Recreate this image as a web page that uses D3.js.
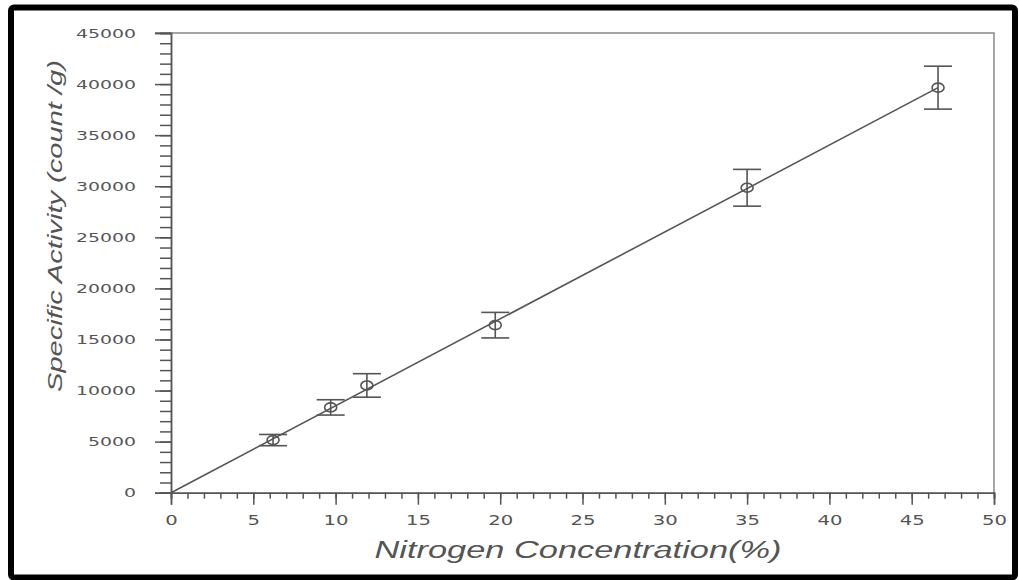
<!DOCTYPE html>
<html>
<head>
<meta charset="utf-8">
<script src="https://cdn.jsdelivr.net/npm/d3@7"></script>
<style>
  body { margin: 0; background: #fff; }
  svg { display: block; }
</style>
</head>
<body>
<svg id="chart" width="1019" height="580"></svg>
<script>
// measured nitrogen concentration (%) and specific activity (count/g)
const NITROGEN = [6.2, 9.7, 11.9, 19.7, 35.0, 46.6];
const ACTIVITY = [5150, 8350, 10500, 16400, 29850, 39650];
const ERRORS = [550, 750, 1150, 1250, 1800, 2100];

// fitted line end points
const FIT_X = [0, 46.6];
const FIT_Y = [0, 39650];

// tick labels
const X_TICKS = [0, 5, 10, 15, 20, 25, 30, 35, 40, 45, 50];
const Y_TICKS = [0, 5000, 10000, 15000, 20000, 25000, 30000, 35000, 40000, 45000];

const LEFT = 171, RIGHT = 994, TOP = 33, BOTTOM = 492.7;
const INK = '#555';

const svg = d3.select('#chart');

// outer black border
svg.append('rect')
    .attr('x', 11).attr('y', 7.5)
    .attr('width', 1004).attr('height', 570)
    .attr('rx', 3)
    .attr('fill', 'none')
    .attr('stroke', '#000')
    .attr('stroke-width', 6);

const x = d3.scaleLinear().domain([0, 50]).range([LEFT, RIGHT]);
const y = d3.scaleLinear().domain([0, 45000]).range([BOTTOM, TOP]);

// frame (top and right)
svg.append('path')
    .attr('d', `M155,${TOP}H${RIGHT}V${BOTTOM}`)
    .attr('fill', 'none')
    .attr('stroke', '#888')
    .attr('stroke-width', 1.5);

// x axis: minor ticks every 1, major every 5
const xMinor = svg.append('g').attr('transform', `translate(0,${BOTTOM})`)
    .call(d3.axisBottom(x).tickValues(d3.range(0, 51, 1)).tickSize(6).tickFormat(''));
const xMajor = svg.append('g').attr('transform', `translate(0,${BOTTOM})`)
    .call(d3.axisBottom(x).tickValues(X_TICKS).tickSize(12).tickPadding(11).tickFormat(d3.format('d')));

// y axis: minor ticks every 1000, major every 5000
const yMinor = svg.append('g').attr('transform', `translate(${LEFT},0)`)
    .call(d3.axisLeft(y).tickValues(d3.range(0, 45001, 1000)).tickSize(11).tickFormat(''));
const yMajor = svg.append('g').attr('transform', `translate(${LEFT},0)`)
    .call(d3.axisLeft(y).tickValues(Y_TICKS).tickSize(16).tickPadding(19).tickFormat(d3.format('d')));

[xMinor, xMajor, yMinor, yMajor].forEach(g => {
    g.selectAll('.domain').attr('stroke', INK).attr('stroke-width', 1.5);
    g.selectAll('.tick line').attr('stroke', INK).attr('stroke-width', 1.5);
});

// stretched, wide tick labels like the original
xMajor.selectAll('text')
    .attr('fill', INK)
    .style('font-family', 'DejaVu Sans')
    .style('font-size', '13.5px')
    .attr('textLength', d => String(d).length * 12.5)
    .attr('lengthAdjust', 'spacingAndGlyphs');
yMajor.selectAll('text')
    .attr('fill', INK)
    .style('font-family', 'DejaVu Sans')
    .style('font-size', '12.5px')
    .attr('textLength', d => String(d).length * 12)
    .attr('lengthAdjust', 'spacingAndGlyphs');

// axis titles
svg.append('text')
    .attr('x', 578).attr('y', 558)
    .attr('text-anchor', 'middle')
    .attr('fill', INK)
    .style('font-family', 'Liberation Sans')
    .style('font-style', 'italic')
    .style('font-size', '23px')
    .attr('textLength', 407)
    .attr('lengthAdjust', 'spacingAndGlyphs')
    .text('Nitrogen Concentration(%)');

svg.append('text')
    .attr('transform', 'translate(62,226) rotate(-90)')
    .attr('text-anchor', 'middle')
    .attr('fill', INK)
    .style('font-family', 'Liberation Sans')
    .style('font-style', 'italic')
    .style('font-size', '21px')
    .attr('textLength', 332)
    .attr('lengthAdjust', 'spacingAndGlyphs')
    .text('Specific Activity (count /g)');

// fitted line
svg.append('path')
    .datum(d3.zip(FIT_X, FIT_Y))
    .attr('d', d3.line().x(d => x(d[0])).y(d => y(d[1])))
    .attr('fill', 'none')
    .attr('stroke', INK)
    .attr('stroke-width', 1.6);

const pts = d3.zip(NITROGEN, ACTIVITY, ERRORS);

// error bars
const bars = svg.append('g').selectAll('g').data(pts).join('g')
    .attr('stroke', INK).attr('stroke-width', 1.6).attr('fill', 'none');
bars.append('line')
    .attr('x1', d => x(d[0])).attr('x2', d => x(d[0]))
    .attr('y1', d => y(d[1] - d[2])).attr('y2', d => y(d[1] + d[2]));
bars.append('line')
    .attr('x1', d => x(d[0]) - 14).attr('x2', d => x(d[0]) + 14)
    .attr('y1', d => y(d[1] + d[2])).attr('y2', d => y(d[1] + d[2]));
bars.append('line')
    .attr('x1', d => x(d[0]) - 14).attr('x2', d => x(d[0]) + 14)
    .attr('y1', d => y(d[1] - d[2])).attr('y2', d => y(d[1] - d[2]));

// open markers
svg.append('g').selectAll('ellipse').data(pts).join('ellipse')
    .attr('cx', d => x(d[0])).attr('cy', d => y(d[1]))
    .attr('rx', 6).attr('ry', 4.5)
    .attr('fill', 'none')
    .attr('stroke', INK)
    .attr('stroke-width', 1.6);
</script>
</body>
</html>
